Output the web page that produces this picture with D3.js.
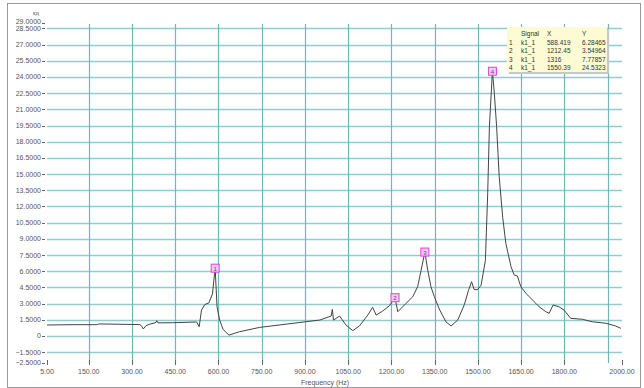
<!DOCTYPE html>
<html>
<head>
<meta charset="utf-8">
<script src="https://cdn.jsdelivr.net/npm/d3@7"></script>
<style>
  body { margin: 0; background: #fff; }
  text { font-family: "Liberation Sans", Arial, sans-serif; }
</style>
</head>
<body>
<div id="chart"></div>
<script>
// spectrum trace, [frequency Hz, value]
const freqs = [5, 95, 178, 185, 327, 334, 339, 348, 362, 383, 386, 390, 441, 524, 533, 541, 552, 567, 579, 588.419,
  595, 604, 616, 636, 673, 743, 835, 951, 991, 995, 999, 1020, 1043, 1066, 1089, 1118, 1135, 1147, 1169, 1193,
  1212.45, 1222, 1251, 1274, 1291, 1303, 1316, 1326, 1337, 1349, 1366, 1389, 1407, 1430, 1453, 1467, 1478, 1487,
  1499, 1511, 1526, 1534, 1540, 1550.39, 1557, 1565, 1574, 1586, 1597, 1615, 1626, 1637, 1649, 1667, 1678, 1701,
  1713, 1736, 1747, 1761, 1782, 1799, 1822, 1863, 1897, 1944, 1978, 1996];
const values = [1.02, 1.05, 1.05, 1.12, 1.06, 0.9, 0.65, 0.95, 1.1, 1.25, 1.42, 1.22, 1.23, 1.3, 0.86, 2.4, 2.9, 3.08, 3.9, 6.28465,
  2.7, 1.48, 0.62, 0.08, 0.4, 0.8, 1.1, 1.48, 1.85, 2.47, 1.48, 1.85, 1.0, 0.5, 0.93, 1.94, 2.66, 1.94, 2.3, 2.8,
  3.54964, 2.25, 3.03, 3.64, 4.57, 6.1, 7.77857, 6.1, 4.57, 3.64, 2.5, 1.32, 0.93, 1.48, 2.9, 4.2, 5.03, 4.3,
  4.3, 4.7, 7.0, 13.2, 19.4, 24.5323, 22.5, 19.4, 14.75, 11.0, 8.58, 6.42, 5.65, 5.56, 4.57, 3.95, 3.64, 3.03,
  2.7, 2.25, 2.1, 2.87, 2.7, 2.4, 1.64, 1.55, 1.32, 1.18, 0.93, 0.71];

// markers
const markerIds = ["1", "2", "3", "4"];
const markerSignals = ["k1_1", "k1_1", "k1_1", "k1_1"];
const markerX = [588.419, 1212.45, 1316, 1550.39];
const markerY = [6.28465, 3.54964, 7.77857, 24.5323];
const markerXText = ["588.419", "1212.45", "1316", "1550.39"];
const markerYText = ["6.28465", "3.54964", "7.77857", "24.5323"];

// axes
const xGrid = [150, 300, 450, 600, 750, 900, 1050, 1200, 1350, 1500, 1650, 1800, 1950];
const xLabels = [5, 150, 300, 450, 600, 750, 900, 1050, 1200, 1350, 1500, 1650, 1800, 2000];
const yGrid = [-1.5, 0, 1.5, 3, 4.5, 6, 7.5, 9, 10.5, 12, 13.5, 15, 16.5, 18, 19.5, 21, 22.5, 24, 25.5, 27, 28.5];
const yLabels = [-2.5, -1.5, 0, 1.5, 3, 4.5, 6, 7.5, 9, 10.5, 12, 13.5, 15, 16.5, 18, 19.5, 21, 22.5, 24, 25.5, 27, 28.5, 29];

const width = 644, height = 388;
const svg = d3.select('#chart').append('svg')
    .attr('width', width)
    .attr('height', height);

// outer frame
svg.append('rect')
    .attr('x', 7.5).attr('y', 3.5)
    .attr('width', 633).attr('height', 384)
    .attr('fill', '#fff')
    .attr('stroke', '#9a9a9a');

const x = d3.scaleLinear().domain([5, 2000]).range([47, 622]);
const y = d3.scaleLinear().domain([-2.5, 29]).range([363, 23]);

// grid
svg.append('g').selectAll('line')
    .data(yGrid)
    .enter().append('line')
        .attr('x1', 47).attr('x2', 622)
        .attr('y1', d => Math.round(y(d)) + 0.5)
        .attr('y2', d => Math.round(y(d)) + 0.5)
        .attr('stroke', '#93cccc')
        .attr('stroke-width', 1.3);

svg.append('g').selectAll('line')
    .data(xGrid)
    .enter().append('line')
        .attr('x1', d => Math.round(x(d)) + 0.5)
        .attr('x2', d => Math.round(x(d)) + 0.5)
        .attr('y1', 24).attr('y2', 363)
        .attr('stroke', '#72b6b6')
        .attr('stroke-width', 1.2);

// y ticks and labels
const yAxis = svg.append('g');
yAxis.selectAll('line')
    .data(yLabels)
    .enter().append('line')
        .attr('x1', 42).attr('x2', 45)
        .attr('y1', d => Math.round(y(d)) + 0.5)
        .attr('y2', d => Math.round(y(d)) + 0.5)
        .attr('stroke', '#666');
yAxis.selectAll('text')
    .data(yLabels)
    .enter().append('text')
        .attr('x', 41)
        .attr('y', d => d === 29 ? y(d) - 1.5 : y(d))
        .attr('dy', '0.35em')
        .attr('text-anchor', 'end')
        .attr('font-size', 7)
        .attr('fill', '#555')
        .text(d => d === 0 ? '0' : d3.format('.4f')(d));

svg.append('text')
    .attr('x', 36).attr('y', 15)
    .attr('text-anchor', 'middle')
    .attr('font-size', 6)
    .attr('fill', '#666')
    .text('кд');

// x ticks and labels
const xAxis = svg.append('g');
xAxis.selectAll('line')
    .data(xLabels)
    .enter().append('line')
        .attr('x1', d => Math.round(x(d)) + 0.5)
        .attr('x2', d => Math.round(x(d)) + 0.5)
        .attr('y1', 360).attr('y2', 365)
        .attr('stroke', '#666');
xAxis.selectAll('text')
    .data(xLabels)
    .enter().append('text')
        .attr('x', d => x(d))
        .attr('y', 374)
        .attr('text-anchor', 'middle')
        .attr('font-size', 7)
        .attr('fill', '#555')
        .text(d => d3.format('.2f')(d));

svg.append('text')
    .attr('x', 325).attr('y', 385)
    .attr('text-anchor', 'middle')
    .attr('font-size', 7)
    .attr('fill', '#555')
    .text('Frequency (Hz)');

// trace
const points = freqs.map((f, i) => [f, values[i]]);
svg.append('path')
    .datum(points)
    .attr('fill', 'none')
    .attr('stroke', '#444')
    .attr('stroke-width', 1)
    .attr('stroke-linejoin', 'round')
    .attr('d', d3.line().x(d => x(d[0])).y(d => y(d[1])));

// markers
const markers = svg.append('g').selectAll('g')
    .data(markerIds)
    .enter().append('g')
        .attr('transform', (d, i) => `translate(${x(markerX[i])},${y(markerY[i])})`);
markers.append('rect')
    .attr('x', -4).attr('y', -4)
    .attr('width', 8).attr('height', 8)
    .attr('fill', '#f7c8f7')
    .attr('stroke', '#e040e0');
markers.append('text')
    .attr('y', 2.5)
    .attr('text-anchor', 'middle')
    .attr('font-size', 6)
    .attr('fill', '#803080')
    .text(d => d);

// marker table
const table = svg.append('g').attr('transform', 'translate(507,27)');
table.append('rect')
    .attr('x', 2).attr('y', 2)
    .attr('width', 100).attr('height', 45)
    .attr('fill', '#c8c8c8');
table.append('rect')
    .attr('width', 100).attr('height', 45)
    .attr('fill', '#fdfbd3');
const cols = [2, 14, 40, 75];
['Signal', 'X', 'Y'].forEach((h, j) => {
    table.append('text')
        .attr('x', cols[j + 1]).attr('y', 9)
        .attr('font-size', 6.5)
        .attr('fill', '#333')
        .text(h);
});
markerIds.forEach((id, i) => {
    const row = [id, markerSignals[i], markerXText[i], markerYText[i]];
    row.forEach((t, j) => {
        table.append('text')
            .attr('x', cols[j]).attr('y', 18 + i * 8.4)
            .attr('font-size', 6.5)
            .attr('fill', '#333')
            .text(t);
    });
});
</script>
</body>
</html>
